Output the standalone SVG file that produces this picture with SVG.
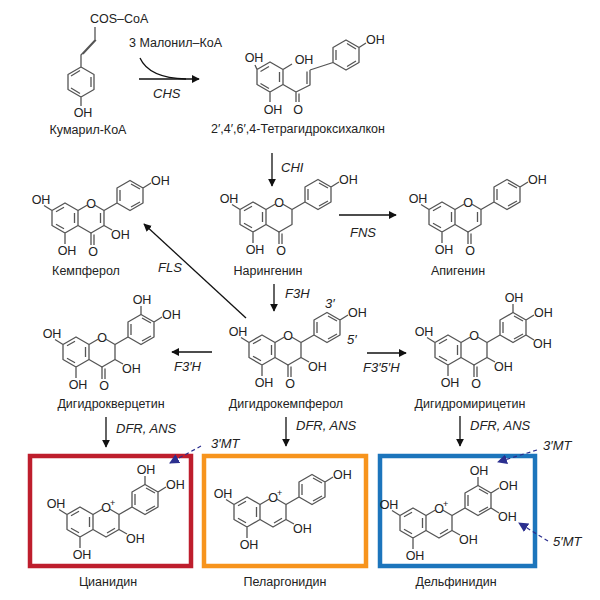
<svg xmlns="http://www.w3.org/2000/svg" xmlns:xlink="http://www.w3.org/1999/xlink" width="600" height="600" viewBox="0 0 600 600">
<style>
.b{fill:none;stroke:#555;stroke-width:1.3;stroke-linejoin:round}
.t{font-family:"Liberation Sans",Arial,sans-serif;font-size:12.5px;fill:#222}
.m{text-anchor:middle}
.n{font-family:"Liberation Sans",Arial,sans-serif;font-size:12.5px;fill:#222;text-anchor:middle}
.en{font-family:"Liberation Sans",Arial,sans-serif;font-size:13px;font-style:italic;fill:#222}
.ar{fill:none;stroke:#111;stroke-width:1.3;marker-end:url(#ah)}
.da{fill:none;stroke:#2b2f8f;stroke-width:1.2;stroke-dasharray:4 3;marker-end:url(#bh)}
</style>
<defs>
<marker id="ah" viewBox="0 0 10 10" refX="9" refY="5" markerWidth="8" markerHeight="8" orient="auto" markerUnits="userSpaceOnUse"><path d="M0,0 L10,5 L0,10 z" fill="#111"/></marker>
<marker id="bh" viewBox="0 0 10 10" refX="9" refY="5" markerWidth="10" markerHeight="10" orient="auto" markerUnits="userSpaceOnUse"><path d="M0,0 L10,5 L0,10 z" fill="#2b2f8f"/></marker>
<g id="ringA">
<path class="b" d="M0,-15 L13,-7.5 L13,7.5 L0,15 L-13,7.5 L-13,-7.5 Z M9.5,-5 L9.5,5 M-1,10.8 L-9,6.2 M-9,-6.2 L-1,-10.8 M-13,-7.5 L-21,-12.5 M0,15 L0,26"/>
<text class="t m" x="-24" y="-14">OH</text>
<text class="t m" x="2" y="37">OH</text>
</g>
<g id="ringC">
<path class="b" d="M13,-7.5 L22,-12.7 M30,-12.7 L39,-7.5 L39,7.5 L26,15 L13,7.5"/>
<text class="t m" x="26" y="-10.5">O</text>
</g>
<g id="keto">
<path class="b" d="M26,15 L26,27 M29,16.5 L29,27"/>
<text class="t m" x="28" y="38">O</text>
</g>
<g id="ringB">
<path class="b" d="M39,-7.5 L52,-15 M52,-15 L52,-30 L65,-37.5 L78,-30 L78,-15 L65,-7.5 Z M55,-17 L55,-28 M66,-11 L75,-16 M75,-29 L66,-34 M78,-30 L86,-35"/>
<text class="t" x="86" y="-33">OH</text>
</g>
<g id="oh3p"><path class="b" d="M65,-37.5 L65,-46"/><text class="t m" x="66" y="-48">OH</text></g>
<g id="oh5p"><path class="b" d="M78,-15 L86,-10"/><text class="t" x="85" y="-2">OH</text></g>
<g id="oh3"><path class="b" d="M39,7.5 L47,12"/><text class="t" x="46" y="21">OH</text></g>
<g id="db23"><path class="b" d="M35.5,-5 L35.5,5"/></g>
<g id="antho">
<path class="b" d="M13,-7.5 L22,-12.7 M30,-12.7 L39,-7.5 L39,7.5 L26,15 L13,7.5 M35,6.2 L27,11"/>
<text class="t m" x="26" y="-10.5">O</text>
<text class="t" x="30" y="-16" style="font-size:9px">+</text>
</g>
</defs>

<g id="coumaroyl-coa">
<path class="b" d="M81,67 L94,74.5 L94,89.5 L81,97 L68,89.5 L68,74.5 Z M91,77 L91,87 M80,93.5 L71,88 M71,76 L80,70.5 M81,97 L81,106 M81,67 L81,55 L95,40 M83,54 L96,40 M95,40 L95,27"/>
<text class="t m" x="83" y="117">OH</text>
<text class="t" x="90" y="23">COS–CoA</text>
<text class="n" x="88" y="134">Кумарил-КоА</text>
</g>

<g id="chalcone">
<path class="b" d="M270,62 L283,69.5 L283,84.5 L270,92 L257,84.5 L257,69.5 Z M279.5,72 L279.5,82 M269,88.5 L260.5,83.5 M260.5,71.5 L269,66.5 M257,69.5 L255,65 M283,69.5 L292,64 M270,92 L270,102 M283,84.5 L296,92 L296,102 M299,93.5 L299,102 M296,92 L310,85 L310,70 M307,84 L307,71.5 M310,70 L333,62.5 M333,62.5 L333,47.5 L346,40 L359,47.5 L359,62.5 L346,70 Z M336,50 L336,60 M347,66.5 L356,61 M356,49 L347,43.5 M359,47.5 L366,43"/>
<text class="t m" x="254" y="62">OH</text>
<text class="t m" x="304" y="64">OH</text>
<text class="t m" x="273" y="114">OH</text>
<text class="t m" x="298" y="114">O</text>
<text class="t" x="366" y="44">OH</text>
<text class="n" x="298" y="133">2′,4′,6′,4-Тетрагидроксихалкон</text>
</g>

<g id="kaempferol">
<g transform="translate(65,218)"><use xlink:href="#ringA"/><use xlink:href="#ringC"/><use xlink:href="#keto"/><use xlink:href="#ringB"/><use xlink:href="#oh3"/><use xlink:href="#db23"/></g>
<text class="n" x="86" y="275">Кемпферол</text>
</g>
<g id="naringenin">
<g transform="translate(253,217)"><use xlink:href="#ringA"/><use xlink:href="#ringC"/><use xlink:href="#keto"/><use xlink:href="#ringB"/></g>
<text class="n" x="268" y="275">Нарингенин</text>
</g>
<g id="apigenin">
<g transform="translate(442,217)"><use xlink:href="#ringA"/><use xlink:href="#ringC"/><use xlink:href="#keto"/><use xlink:href="#ringB"/><use xlink:href="#db23"/></g>
<text class="n" x="458" y="275">Апигенин</text>
</g>
<g id="dihydrokaempferol">
<g transform="translate(262,350)"><use xlink:href="#ringA"/><use xlink:href="#ringC"/><use xlink:href="#keto"/><use xlink:href="#ringB"/><use xlink:href="#oh3"/></g>
<text class="en" x="325" y="308">3′</text>
<text class="en" x="347" y="344">5′</text>
<text class="n" x="286" y="408">Дигидрокемпферол</text>
</g>
<g id="dihydroquercetin">
<g transform="translate(76,352)"><use xlink:href="#ringA"/><use xlink:href="#ringC"/><use xlink:href="#keto"/><use xlink:href="#ringB"/><use xlink:href="#oh3"/><use xlink:href="#oh3p"/></g>
<text class="n" x="111" y="408">Дигидрокверцетин</text>
</g>
<g id="dihydromyricetin">
<g transform="translate(448,350)"><use xlink:href="#ringA"/><use xlink:href="#ringC"/><use xlink:href="#keto"/><use xlink:href="#ringB"/><use xlink:href="#oh3"/><use xlink:href="#oh3p"/><use xlink:href="#oh5p"/></g>
<text class="n" x="470" y="408">Дигидромирицетин</text>
</g>
<g id="cyanidin">
<rect x="30" y="456" width="161" height="110" fill="none" stroke="#be1e2d" stroke-width="4.5"/>
<g transform="translate(80,522)"><use xlink:href="#ringA"/><use xlink:href="#antho"/><use xlink:href="#ringB"/><use xlink:href="#oh3"/><use xlink:href="#oh3p"/></g>
<text class="n" x="108" y="586">Цианидин</text>
</g>
<g id="pelargonidin">
<rect x="204" y="456" width="162" height="110" fill="none" stroke="#f7941d" stroke-width="4.5"/>
<g transform="translate(247,512)"><use xlink:href="#ringA"/><use xlink:href="#antho"/><use xlink:href="#ringB"/><use xlink:href="#oh3"/></g>
<text class="n" x="285" y="586">Пеларгонидин</text>
</g>
<g id="delphinidin">
<rect x="380" y="456" width="155" height="110" fill="none" stroke="#1c75bc" stroke-width="4.5"/>
<g transform="translate(413,523)"><use xlink:href="#ringA"/><use xlink:href="#antho"/><use xlink:href="#ringB"/><use xlink:href="#oh3"/><use xlink:href="#oh3p"/><use xlink:href="#oh5p"/></g>
<text class="n" x="456" y="586">Дельфинидин</text>
</g>

<g id="connectors">
<path class="ar" d="M139,79 L199,79"/>
<path class="b" style="stroke:#111" d="M140,58 Q149,78 186,79"/>
<text class="t" x="129" y="47">3  Малонил–КоА</text>
<text class="en" x="153" y="98">CHS</text>
<path class="ar" d="M272,153 L272,186"/>
<text class="en" x="281" y="172">CHI</text>
<path class="ar" d="M339,215 L396,215"/>
<text class="en" x="350" y="237">FNS</text>
<path class="ar" d="M246,318 L144,224"/>
<text class="en" x="158" y="272">FLS</text>
<path class="ar" d="M274,284 L274,311"/>
<text class="en" x="285" y="298">F3H</text>
<path class="ar" d="M212,352 L172,352"/>
<text class="en" x="174" y="371">F3′H</text>
<path class="ar" d="M367,353 L406,353"/>
<text class="en" x="363" y="372">F3′5′H</text>
<path class="ar" d="M106,417 L106,447"/>
<text class="en" x="116" y="433">DFR, ANS</text>
<path class="ar" d="M286,417 L286,446"/>
<text class="en" x="296" y="430">DFR, ANS</text>
<path class="ar" d="M460,416 L460,446"/>
<text class="en" x="470" y="430">DFR, ANS</text>
<path class="da" d="M201,446 L170,463"/>
<text class="en" x="211" y="448">3′MT</text>
<path class="da" d="M537,450 L498,462"/>
<text class="en" x="543" y="450">3′MT</text>
<path class="da" d="M548,541 L519,523"/>
<text class="en" x="553" y="546">5′MT</text>
</g>
</svg>
